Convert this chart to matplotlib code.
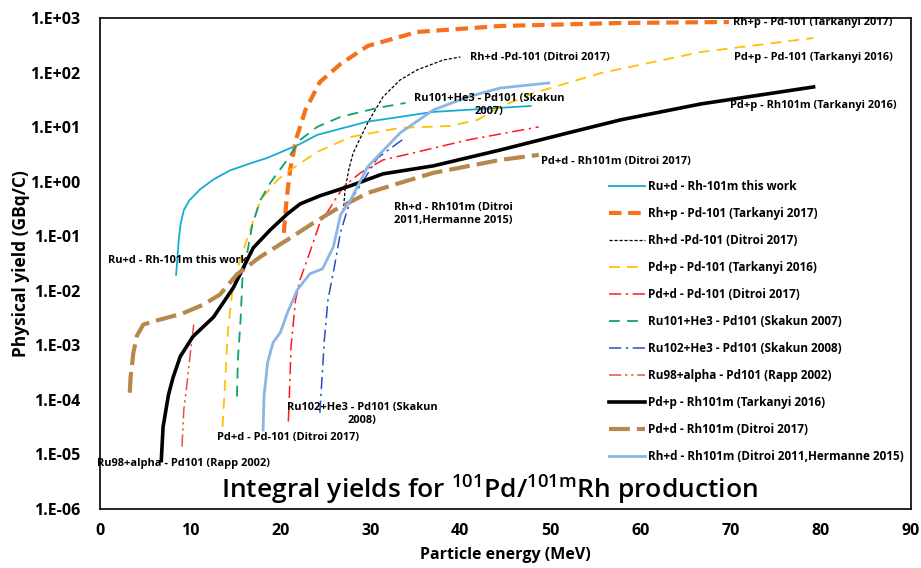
import matplotlib
matplotlib.use('Agg')
import matplotlib.pyplot as plt
from matplotlib.ticker import FixedLocator, FixedFormatter

plt.rcParams['font.family'] = ['Open Sans', 'DejaVu Sans']
plt.rcParams['mathtext.default'] = 'regular'

# Ru+d - Rh-101m this work
e_rud = [8.44, 8.56, 8.75, 8.95, 9.3, 9.9, 11.1, 12.6, 14.4, 16.8, 18.5, 22.2, 24.1, 29.6, 37.0, 47.8]
y_rud = [0.0196, 0.034, 0.09, 0.17, 0.3, 0.45, 0.72, 1.1, 1.6, 2.2, 2.7, 4.9, 7.2, 12.5, 19.0, 24.4]
# Rh+p - Pd-101 (Tarkanyi 2017)
e_rhp = [20.4, 20.7, 21.1, 21.8, 22.8, 24.4, 26.7, 29.7, 35.2, 44.4, 57.8, 69.8]
y_rhp = [0.115, 0.46, 1.64, 6.3, 20.6, 67, 144, 307, 555, 713, 810, 845]
# Rh+d -Pd-101 (Ditroi 2017)
e_rhd = [27.0, 27.2, 27.6, 28.1, 29.7, 31.4, 33.3, 35.2, 38.1, 40.0]
y_rhd = [0.29, 0.71, 1.64, 3.37, 11.9, 35.7, 73, 112, 170, 193]
# Pd+p - Pd-101 (Tarkanyi 2016)
e_pdp = [13.6, 13.9, 14.2, 14.7, 15.2, 16.3, 17.8, 19.7, 21.1, 24.1, 27.8, 33.3, 38.9, 41.9, 44.4, 48.1, 55.6, 66.7, 79.2]
y_pdp = [3.2e-5, 2.3e-4, 1.9e-3, 0.0104, 0.024, 0.086, 0.46, 1.08, 1.64, 3.5, 6.6, 9.7, 10.5, 13.6, 23.4, 42, 98, 238, 430]
# Pd+d - Pd-101 (Ditroi 2017)
e_pdd = [20.9, 21.0, 21.2, 21.7, 22.2, 23.0, 24.4, 25.2, 27.0, 28.9, 31.4, 35.2, 40.8, 48.7]
y_pdd = [4.0e-5, 1.0e-4, 9.4e-4, 6.8e-3, 0.0159, 0.037, 0.176, 0.27, 0.80, 1.45, 2.5, 3.5, 5.8, 10.1]
# Ru101+He3 - Pd101 (Skakun 2007)
e_ru101 = [15.2, 15.3, 15.6, 15.8, 16.3, 16.9, 17.8, 18.9, 20.6, 22.2, 24.1, 26.7, 30.8, 33.9]
y_ru101 = [1.15e-4, 5.4e-4, 2.9e-3, 0.016, 0.046, 0.16, 0.46, 0.95, 2.3, 5.8, 10.1, 15.4, 22.5, 27.7]
# Ru102+He3 - Pd101 (Skakun 2008)
e_ru102 = [24.4, 24.7, 24.9, 25.3, 26.1, 26.7, 27.8, 28.6, 30.8, 33.7]
y_ru102 = [5.8e-5, 3.6e-4, 1.27e-3, 6.8e-3, 0.033, 0.12, 0.46, 0.71, 2.73, 6.1]
# Ru98+alpha - Pd101 (Rapp 2002)
e_ru98 = [9.1, 9.3, 9.7, 10.0, 10.4]
y_ru98 = [1.39e-5, 6.6e-5, 2.3e-4, 6.7e-4, 2.4e-3]
# Pd+p - Rh101m (Tarkanyi 2016)
e_pdp_rh = [6.8, 7.0, 7.6, 8.1, 8.9, 10.3, 12.6, 14.8, 17.0, 18.9, 20.8, 22.2, 24.4, 27.8, 31.4, 37.0, 44.4, 51.9, 57.8, 66.7, 79.2]
y_pdp_rh = [7.7e-6, 3.2e-5, 1.24e-4, 2.55e-4, 6.2e-4, 1.44e-3, 3.3e-3, 0.0114, 0.061, 0.131, 0.257, 0.39, 0.55, 0.84, 1.39, 1.95, 3.8, 7.8, 13.6, 26.6, 54.5]
# Pd+d - Rh101m (Ditroi 2017)
e_pdd_rh = [3.3, 3.4, 3.7, 4.1, 4.8, 6.1, 9.1, 11.4, 13.3, 15.2, 17.8, 20.8, 23.7, 26.1, 29.7, 33.3, 37.0, 44.4, 48.7]
y_pdd_rh = [1.35e-4, 2.66e-4, 7.3e-4, 1.5e-3, 2.4e-3, 2.8e-3, 3.8e-3, 5.5e-3, 8.5e-3, 0.020, 0.042, 0.086, 0.176, 0.305, 0.62, 0.95, 1.45, 2.5, 3.1]
# Rh+d - Rh101m (Ditroi 2011, Hermanne 2015)
e_rhd_rh = [18.1, 18.2, 18.6, 19.2, 20.0, 20.8, 21.9, 23.3, 24.7, 25.9, 26.7, 27.8, 29.7, 33.3, 37.0, 40.8, 44.4, 49.8]
y_rhd_rh = [2.8e-5, 1.15e-4, 4.8e-4, 1.12e-3, 1.7e-3, 3.95e-3, 0.0104, 0.0205, 0.0253, 0.064, 0.247, 0.46, 1.87, 7.8, 20.6, 35.7, 52, 64.5]

x_ticks = [0, 10, 20, 30, 40, 50, 60, 70, 80, 90]
y_ticks = [1e-6, 1e-5, 1e-4, 1e-3, 1e-2, 1e-1, 1e0, 1e1, 1e2, 1e3]
y_tick_labels = ['1.E-06', '1.E-05', '1.E-04', '1.E-03', '1.E-02', '1.E-01', '1.E+00', '1.E+01', '1.E+02', '1.E+03']

fig = plt.figure(figsize=(9.21, 5.68), dpi=100)
ax = fig.add_axes([0.1086, 0.1039, 0.8804, 0.8644])

ax.plot(e_rud, y_rud, color='#14ADD2', lw=1.3, label='Ru+d - Rh-101m this work')
ax.plot(e_rhp, y_rhp, color='#F7701C', lw=3, dashes=(3, 1.6), label='Rh+p - Pd-101 (Tarkanyi 2017)')
ax.plot(e_rhd, y_rhd, color='black', lw=0.9, dashes=(2.5, 1.5), label='Rh+d -Pd-101 (Ditroi 2017)')
ax.plot(e_pdp, y_pdp, color='#FFC000', lw=1.3, dashes=(6, 4), label='Pd+p - Pd-101 (Tarkanyi 2016)')
ax.plot(e_pdd, y_pdd, color='#FF1A1A', lw=1.1, dashes=(8, 3, 1.5, 3), label='Pd+d - Pd-101 (Ditroi 2017)')
ax.plot(e_ru101, y_ru101, color='#10A06A', lw=1.3, dashes=(6, 4), label='Ru101+He3 - Pd101 (Skakun 2007)')
ax.plot(e_ru102, y_ru102, color='#2A4FC0', lw=1.1, dashes=(8, 3, 1.5, 3), label='Ru102+He3 - Pd101 (Skakun 2008)')
ax.plot(e_ru98, y_ru98, color='#E2553C', lw=1.1, dashes=(8, 2.5, 1.5, 2.5, 1.5, 2.5), label='Ru98+alpha - Pd101 (Rapp 2002)')
ax.plot(e_pdp_rh, y_pdp_rh, color='black', lw=2.6, label='Pd+p - Rh101m (Tarkanyi 2016)')
ax.plot(e_pdd_rh, y_pdd_rh, color='#B8874C', lw=3, dashes=(5, 1.7), label='Pd+d - Rh101m (Ditroi 2017)')
ax.plot(e_rhd_rh, y_rhd_rh, color='#8EB4E3', lw=2, label='Rh+d - Rh101m (Ditroi 2011,Hermanne 2015)')

ax.set_yscale('log')
ax.set_xlim(0, 90)
ax.set_ylim(1e-6, 1e3)
ax.xaxis.set_major_locator(FixedLocator(x_ticks))
ax.yaxis.set_major_locator(FixedLocator(y_ticks))
ax.yaxis.set_major_formatter(FixedFormatter(y_tick_labels))
ax.yaxis.set_minor_locator(FixedLocator([]))
ax.tick_params(length=0, labelsize=11.5)
ax.tick_params(axis='y', pad=14)
ax.tick_params(axis='x', pad=10)
for lab in ax.get_xticklabels() + ax.get_yticklabels():
    lab.set_fontweight('bold')
for sp in ax.spines.values():
    sp.set_linewidth(1.2)

ax.set_xlabel('Particle energy (MeV)', fontsize=11.5, fontweight='bold', labelpad=6)
ax.set_ylabel('Physical yield (GBq/C)', fontsize=12.5, fontweight='bold', labelpad=0)

# curve labels
tk = dict(fontsize=7.9, fontweight='bold', va='center')
ax.text(70.3, 830, 'Rh+p - Pd-101 (Tarkanyi 2017)', ha='left', **tk)
ax.text(41.1, 185, 'Rh+d -Pd-101 (Ditroi 2017)', ha='left', **tk)
ax.text(70.4, 190, 'Pd+p - Pd-101 (Tarkanyi 2016)', ha='left', **tk)
ax.text(43.2, 25.5, 'Ru101+He3 - Pd101 (Skakun\n2007)', ha='center', linespacing=1.25, **tk)
ax.text(69.9, 24.4, 'Pd+p - Rh101m (Tarkanyi 2016)', ha='left', **tk)
ax.text(48.9, 2.3, 'Pd+d - Rh101m (Ditroi 2017)', ha='left', **tk)
ax.text(32.6, 0.26, 'Rh+d - Rh101m (Ditroi\n2011,Hermanne 2015)', ha='left', linespacing=1.25, **tk)
ax.text(0.9, 0.0352, 'Ru+d - Rh-101m this work', ha='left', **tk)
ax.text(29.1, 5.4e-5, 'Ru102+He3 - Pd101 (Skakun\n2008)', ha='center', linespacing=1.25, **tk)
ax.text(13.0, 2.03e-5, 'Pd+d - Pd-101 (Ditroi 2017)', ha='left', **tk)
ax.text(-0.3, 6.8e-6, 'Ru98+alpha - Pd101 (Rapp 2002)', ha='left', **tk)

ax.text(43.2, 2.2e-6, r'Integral yields for $^{101}$Pd/$^{101m}$Rh production',
        ha='center', va='center', fontsize=19, fontweight='semibold')

ax.legend(loc='upper left', bbox_to_anchor=(0.650, 0.702), bbox_transform=fig.transFigure,
          frameon=False, prop={'size': 8.5, 'weight': 'bold'}, labelspacing=1.19,
          handlelength=3.0, handletextpad=0.3)

fig.savefig('out.png', dpi=100)
